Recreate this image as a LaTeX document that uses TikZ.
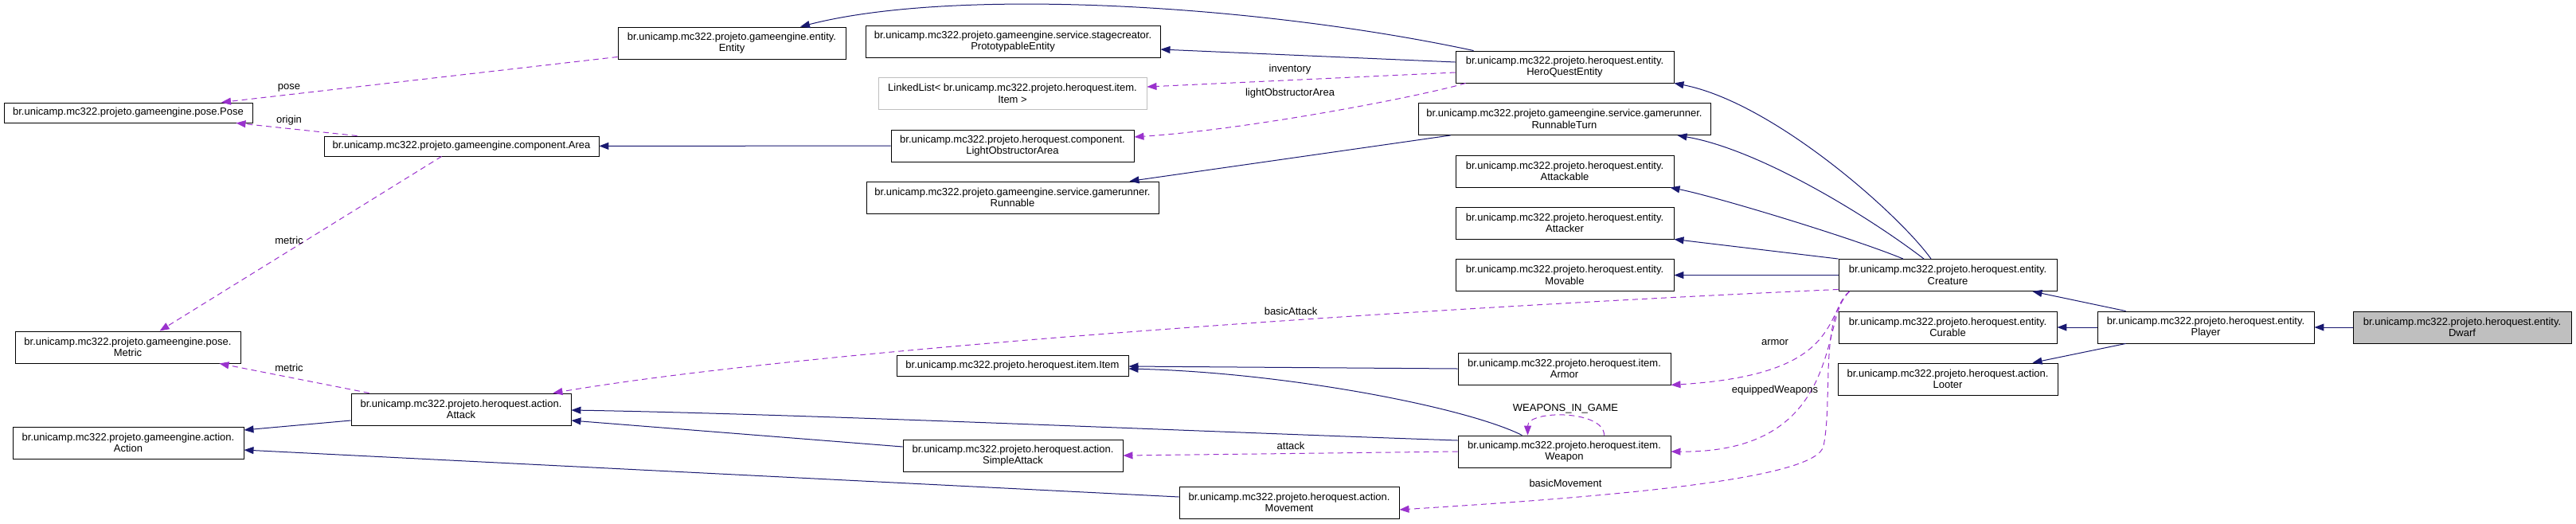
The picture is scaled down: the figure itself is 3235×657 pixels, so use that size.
\documentclass[tikz,border=0pt]{standalone}
\usepackage{fontspec}
\setmainfont{Liberation Sans}
\usepackage{tikz}
\usetikzlibrary{arrows.meta}
\definecolor{edgeblue}{HTML}{191970}
\definecolor{edgepurple}{HTML}{9A32CD}
\newcommand\lbl{\fontsize{13}{14.5}\selectfont}
\newcommand\pkg{br.unicamp.mc322.projeto.}
\tikzstyle{cls}=[draw=black,line width=.9pt,inner xsep=2pt,inner ysep=1pt,align=center,font=\lbl,fill=white]
\tikzstyle{ext}=[cls,draw=gray!50]
\tikzstyle{cur}=[cls,fill=gray!50]
\tikzstyle{inh}=[draw=edgeblue,line width=1pt,-{Triangle[length=12pt,width=9pt]}]
\tikzstyle{use}=[draw=edgepurple,line width=1pt,dash pattern=on 7pt off 5pt,-{Triangle[length=12pt,width=9pt]}]
\tikzstyle{lab}=[font=\lbl,text=black,inner sep=0pt]

\begin{document}
\begin{tikzpicture}[x=1pt,y=-1pt]
	\useasboundingbox (0,0) rectangle (3235,657);
	% classes
	\node[cls,minimum width=312pt,minimum height=25pt] (pose)     at (161,141.5)  {\pkg gameengine.pose.Pose};
	\node[cls,minimum width=345pt,minimum height=25pt] (area)     at (579.5,183.5){\pkg gameengine.component.Area};
	\node[cls,minimum width=283pt,minimum height=40pt] (metric)   at (160.5,436)  {\pkg gameengine.pose.\\Metric};
	\node[cls,minimum width=290pt,minimum height=40pt] (action)   at (161,556)    {\pkg gameengine.action.\\Action};
	\node[cls,minimum width=276pt,minimum height=40pt] (attack)   at (579,514)    {\pkg heroquest.action.\\Attack};
	\node[cls,minimum width=286pt,minimum height=40pt] (entity)   at (919,54)     {\pkg gameengine.entity.\\Entity};
	\node[cls,minimum width=370pt,minimum height=40pt] (proto)    at (1272,52)    {\pkg gameengine.service.stagecreator.\\PrototypableEntity};
	\node[ext,minimum width=337pt,minimum height=40pt] (llist)    at (1271.5,117.5){LinkedList< \pkg heroquest.item.\\Item >};
	\node[cls,minimum width=305pt,minimum height=40pt] (loa)      at (1271.5,183) {\pkg heroquest.component.\\LightObstructorArea};
	\node[cls,minimum width=367pt,minimum height=40pt] (runnable) at (1271.5,248) {\pkg gameengine.service.gamerunner.\\Runnable};
	\node[cls,minimum width=291pt,minimum height=26pt] (item)     at (1271.5,459) {\pkg heroquest.item.Item};
	\node[cls,minimum width=276pt,minimum height=40pt] (sattack)  at (1272,572)   {\pkg heroquest.action.\\SimpleAttack};
	\node[cls,minimum width=276pt,minimum height=40pt] (movement) at (1619,631)   {\pkg heroquest.action.\\Movement};
	\node[cls,minimum width=274pt,minimum height=40pt] (hqe)      at (1965,84)    {\pkg heroquest.entity.\\HeroQuestEntity};
	\node[cls,minimum width=367pt,minimum height=40pt] (rturn)    at (1964.5,149.5){\pkg gameengine.service.gamerunner.\\RunnableTurn};
	\node[cls,minimum width=274pt,minimum height=40pt] (attackable) at (1965,215)  {\pkg heroquest.entity.\\Attackable};
	\node[cls,minimum width=274pt,minimum height=40pt] (attacker) at (1965,280)    {\pkg heroquest.entity.\\Attacker};
	\node[cls,minimum width=274pt,minimum height=40pt] (movable)  at (1965,345.5)  {\pkg heroquest.entity.\\Movable};
	\node[cls,minimum width=267pt,minimum height=40pt] (armor)    at (1964.5,463)  {\pkg heroquest.item.\\Armor};
	\node[cls,minimum width=267pt,minimum height=40pt] (weapon)   at (1964.5,567)  {\pkg heroquest.item.\\Weapon};
	\node[cls,minimum width=274pt,minimum height=40pt] (creature) at (2446,345.5)  {\pkg heroquest.entity.\\Creature};
	\node[cls,minimum width=274pt,minimum height=40pt] (curable)  at (2446,411)    {\pkg heroquest.entity.\\Curable};
	\node[cls,minimum width=276pt,minimum height=40pt] (looter)   at (2446,476)    {\pkg heroquest.action.\\Looter};
	\node[cls,minimum width=272pt,minimum height=40pt] (player)   at (2770,411)    {\pkg heroquest.entity.\\Player};
	\node[cur,minimum width=274pt,minimum height=40pt] (dwarf)    at (3092,411)    {\pkg heroquest.entity.\\Dwarf};
	% inheritance
	\draw[inh] (dwarf) -- (player);
	\draw[inh] ([xshift=36pt]player.north west) -- ([xshift=-31pt]creature.south east);
	\draw[inh] (player) -- (curable);
	\draw[inh] ([xshift=36pt]player.south west) -- ([xshift=-32pt]looter.north east);
	\draw[inh] ([xshift=-21pt]creature.north) .. controls +(-40,-56) and +(124,24) .. (hqe.south east);
	\draw[inh] ([xshift=-30pt]creature.north) .. controls +(-65,-50) and +(105,18) .. ([xshift=-42pt]rturn.south east);
	\draw[inh] ([xshift=-56pt]creature.north) .. controls +(-60,-25) and +(60,12) .. ([xshift=-5pt]attackable.south east);
	\draw[inh] (creature.north west) -- (attacker.south east);
	\draw[inh] (creature) -- (movable);
	\draw[inh] ([xshift=23pt]hqe.north west) .. controls +(-271,-58) and +(195,-50) .. ([xshift=86pt]entity.north);
	\draw[inh] ([yshift=6pt]hqe.west) -- ([yshift=-10pt]proto.east);
	\draw[inh] (loa) -- (area);
	\draw[inh] ([xshift=41pt]rturn.south west) -- ([xshift=-37pt]runnable.north east);
	\draw[inh] ([yshift=-14pt]attack.west) -- ([yshift=16pt]action.east);
	\draw[inh] ([yshift=7pt]movement.west) -- ([yshift=-9pt]action.east);
	\draw[inh] (armor.west) -- ([yshift=-1pt]item.east);
	\draw[inh] ([xshift=-53pt]weapon.north) .. controls +(-70,-35) and +(200,5) .. ([yshift=-4pt]item.east);
	\draw[inh] ([yshift=14pt]weapon.west) .. controls +(-300,-10) and +(300,5) .. ([yshift=-1pt]attack.east);
	\draw[inh] ([yshift=11pt]sattack.west) -- ([yshift=-14pt]attack.east);
	% usage
	\draw[use] ([yshift=3pt]entity.south west) -- ([xshift=117pt]pose.north)
		node[lab] at (363,110) {pose};
	\draw[use] ([xshift=42pt]area.north west) -- ([xshift=-21pt]pose.south east)
		node[lab] at (363,151) {origin};
	\draw[use] ([xshift=148pt]area.south west) -- ([xshift=40pt]metric.north)
		node[lab] at (363,302) {metric};
	\draw[use] ([xshift=23pt]attack.north west) -- ([xshift=115pt]metric.south)
		node[lab] at (363,462) {metric};
	\draw[use] ([yshift=-7pt]hqe.west) -- ([yshift=8.5pt]llist.east)
		node[lab] at (1620,87) {inventory};
	\draw[use] ([xshift=13pt]hqe.south west) .. controls +(-50,15) and +(150,-10) .. ([yshift=11pt]loa.east)
		node[lab] at (1620,117) {lightObstructorArea};
	\draw[use] ([yshift=2.5pt]creature.south west) .. controls +(-603,27) and +(306,-52) .. ([xshift=-23pt]attack.north east)
		node[lab] at (1621,391) {basicAttack};
	\draw[use] ([xshift=14pt]creature.south west) .. controls +(-33,34) and +(212,-13) .. (armor.south east)
		node[lab] at (2229,430) {armor};
	\draw[use] ([xshift=14pt]creature.south west) .. controls +(-38,29) and +(222,2) .. (weapon.east)
		node[lab] at (2229,490) {equippedWeapons};
	\draw[use] ([xshift=14pt]creature.south west) .. controls +(-38,34) and +(12,-60) .. (2290,560)
		.. controls +(-8,40) and +(293,-18) .. ([yshift=-9pt]movement.east)
		node[lab] at (1966,607) {basicMovement};
	\draw[use] ([xshift=50pt]weapon.north) .. controls +(0,-32) and +(0,-32) .. ([xshift=-46pt]weapon.north)
		node[lab] at (1966,513) {WEAPONS\_IN\_GAME};
	\draw[use] (weapon.west) -- (sattack.east)
		node[lab] at (1621,560) {attack};
\end{tikzpicture}
\end{document}
